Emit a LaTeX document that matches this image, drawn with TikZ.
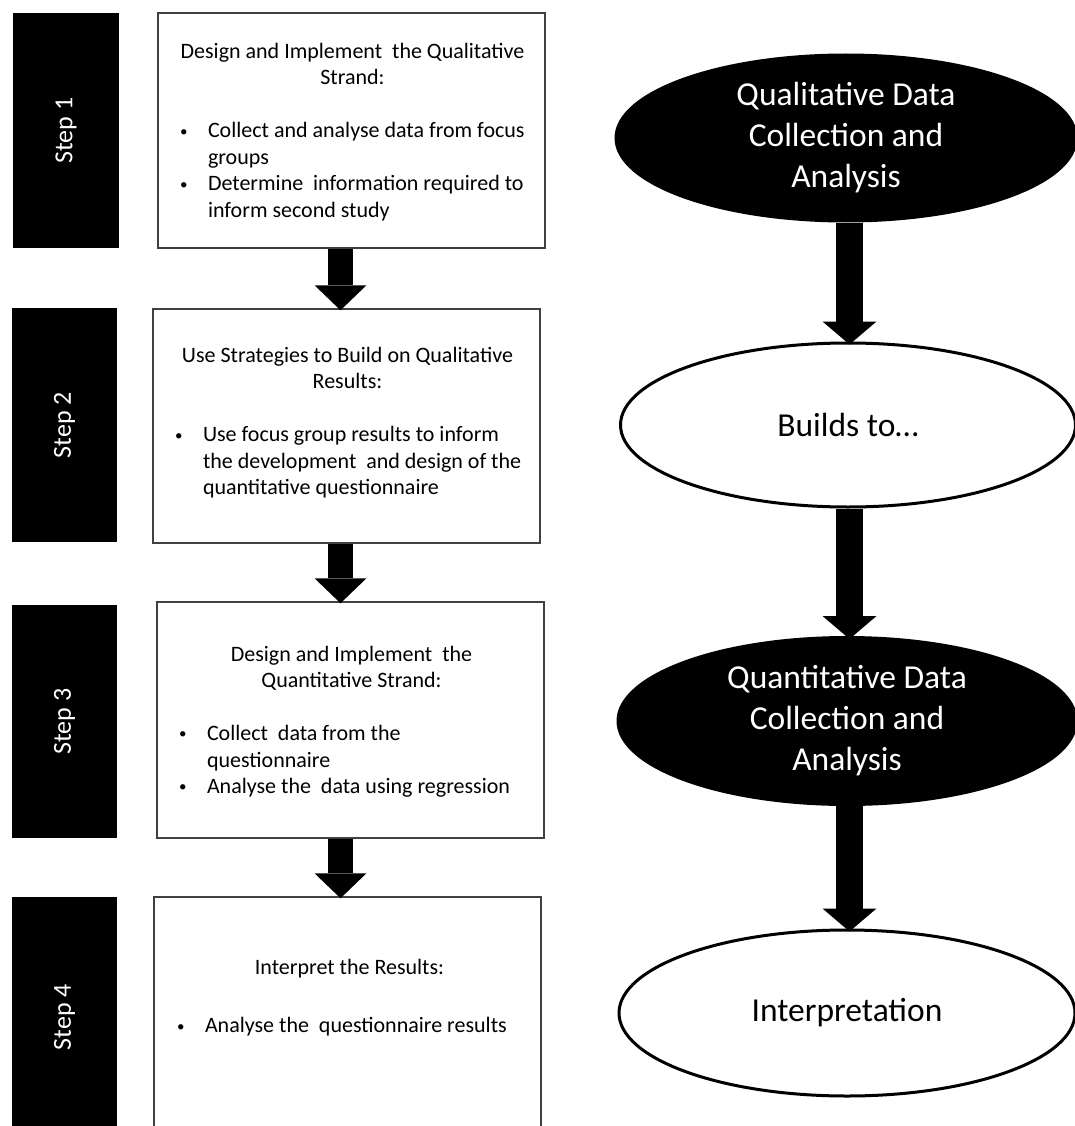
\documentclass[tikz,border=0pt]{standalone}
\usepackage{fontspec}
\setmainfont{Carlito}
\usetikzlibrary{arrows.meta,shapes.geometric,calc}

% one bullet line and its continuation line inside a task box
\newcommand{\smallbullet}{\raisebox{1.6pt}{\fontsize{15}{15}\selectfont\textbullet}}
\newcommand{\bulletline}[1]{\makebox[28pt][l]{\smallbullet}\mbox{#1}}
\newcommand{\contline}[1]{\hspace*{28pt}\mbox{#1}}
% keep the font's own interword space inside the task boxes
\newcommand{\plainspaces}{\spaceskip=0pt\xspaceskip=0pt}

\begin{document}
\begin{tikzpicture}[x=1pt,y=-1pt,
  steptab/.style={fill=black, draw=none, inner sep=0pt, rotate=90,
    text=white, font=\fontsize{26}{31}\selectfont},
  taskbox/.style={draw=black!75, line width=1.5pt, fill=white,
    minimum width=387pt, inner sep=0pt},
  tasktext/.style={text width=345pt, align=left, inner sep=0pt,
    font=\fontsize{22}{26.5}\selectfont},
  phase/.style={ellipse, draw=black, line width=3pt, inner sep=0pt,
    align=center, font=\fontsize{33.5}{41}\selectfont},
  darkphase/.style={phase, fill=black, text=white},
  lightphase/.style={phase, fill=white, text=black},
  stepflow/.style={line width=25pt, shorten >=-2pt,
    -{Triangle[width=52pt,length=25pt,line width=0pt]}},
  phaseflow/.style={line width=27pt, shorten >=-3pt,
    -{Triangle[width=54pt,length=23pt,line width=0pt]}},
]
\useasboundingbox (0,0) rectangle (1075,1126);

% ---- step tabs ----
\node[steptab, minimum width=235pt, minimum height=106pt] (s1) at (66,130.5) {Step 1};
\node[steptab, minimum width=234pt, minimum height=105pt] (s2) at (64.5,425) {Step 2};
\node[steptab, minimum width=233pt, minimum height=105pt] (s3) at (64.5,721.5) {Step 3};
\node[steptab, minimum width=240pt, minimum height=105pt] (s4) at (64.5,1017) {Step 4};

% ---- task boxes ----
\node[taskbox, minimum height=235pt] (b1) at (351.5,130.5) {};
\node[taskbox, minimum height=234pt] (b2) at (346.5,426) {};
\node[taskbox, minimum height=236pt] (b3) at (350.5,720) {};
\node[taskbox, minimum height=240pt] (b4) at (347.5,1017) {};

\node[tasktext] (t1) at (352.5,132) {\plainspaces
  {\centering Design and Implement~ the Qualitative\\ Strand:\par}
  \vspace{26.5pt}
  \bulletline{Collect and analyse data from focus}\\
  \contline{groups}\\
  \bulletline{Determine~ information required to}\\
  \contline{inform second study}};

\node[tasktext] (t2) at (347.5,422.5) {\plainspaces
  {\centering Use Strategies to Build on Qualitative\\ Results:\par}
  \vspace{26.5pt}
  \bulletline{Use focus group results to inform}\\
  \contline{the development~ and design of the}\\
  \contline{quantitative questionnaire}};

\node[tasktext] (t3) at (351.5,721.5) {\plainspaces
  {\centering Design and Implement~ the\\ Quantitative Strand:\par}
  \vspace{26.5pt}
  \bulletline{Collect~ data from the}\\
  \contline{questionnaire}\\
  \bulletline{Analyse the~ data using regression}};

\node[tasktext] (t4) at (349.5,997.5) {\plainspaces
  {\centering Interpret the Results:\par}
  \vspace{32pt}
  \bulletline{Analyse the~ questionnaire results}};

% ---- flow arrows between the steps ----
\coordinate (llane) at (340.5,0);
\draw[stepflow] (llane |- b1.south) -- (llane |- b2.north);
\draw[stepflow] (llane |- b2.south) -- (llane |- b3.north);
\draw[stepflow] (llane |- b3.south) -- (llane |- b4.north);

% ---- phase ellipses ----
\node[darkphase, minimum width=460pt, minimum height=166pt] (e1) at (846,138)
  {Qualitative Data\\ Collection and\\ Analysis};
\node[lightphase, minimum width=455pt, minimum height=164pt] (e2) at (848,425)
  {Builds to\dots};
\node[darkphase, minimum width=458pt, minimum height=167pt] (e3) at (847,721)
  {Quantitative Data\\ Collection and\\ Analysis};
\node[lightphase, minimum width=456pt, minimum height=166pt] (e4) at (847,1013)
  {Interpretation};

\coordinate (rlane) at (849.5,0);
\draw[phaseflow] (rlane |- e1.south) -- (rlane |- e2.north);
\draw[phaseflow] (rlane |- e2.south) -- (rlane |- e3.north);
\draw[phaseflow] (rlane |- e3.south) -- (rlane |- e4.north);
\end{tikzpicture}
\end{document}
